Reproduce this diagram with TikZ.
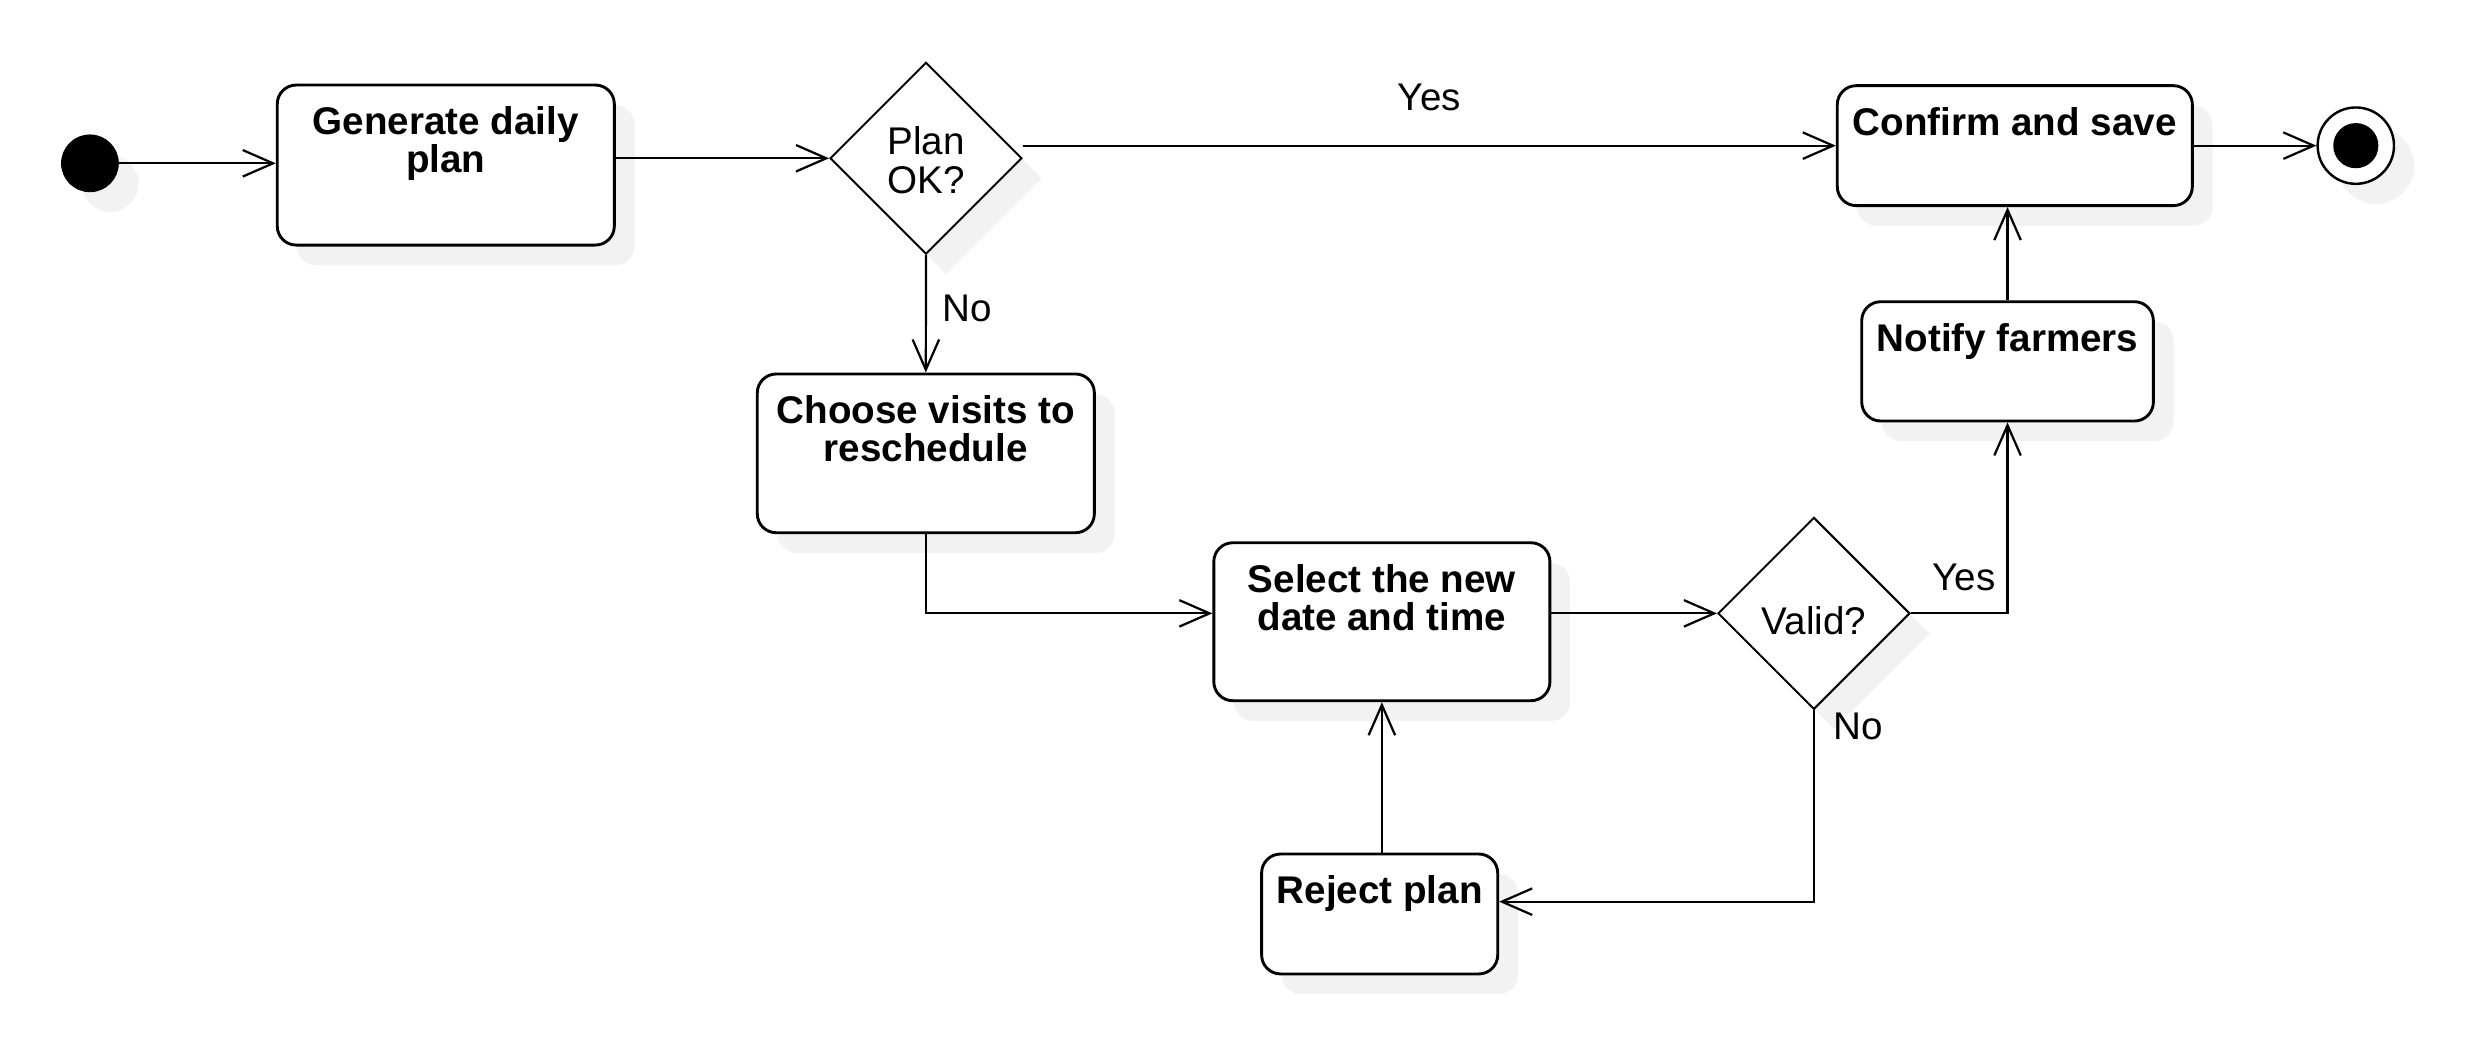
\documentclass[tikz,border=0pt]{standalone}
\usepackage{fontspec}
\setmainfont{Liberation Sans}
\usetikzlibrary{shapes.geometric, arrows.meta, shadows}

\newcommand{\chartfont}{\fontsize{17.4pt}{17.3pt}\selectfont}

\tikzset{
  softshadow/.style={drop shadow={shadow xshift=0.32cm, shadow yshift=-0.32cm, fill=black!5, opacity=1}},
  actbox/.style={draw, line width=1.3pt, rectangle, rounded corners=0.3cm, fill=white, softshadow,
    inner sep=0pt, align=center, font=\chartfont\bfseries, text height=0.7825cm},
  twoline/.style={text height=1.39cm},
  choice/.style={draw, line width=0.9pt, diamond, fill=white, softshadow, inner sep=0pt,
    minimum width=3.04cm, minimum height=3.04cm, align=center, font=\chartfont},
  flow/.style={line width=1pt, -{Straight Barb[length=4.8mm, width=4.2mm]}},
  guard/.style={inner sep=0pt, anchor=base, font=\chartfont},
}

\begin{document}
\begin{tikzpicture}
\fill[white] (0,0) rectangle (39.195,-16.762);
\useasboundingbox (0,0) rectangle (39.195,-16.762);

% states and decisions
\node[draw, circle, fill=black, minimum size=0.9cm, inner sep=0pt, softshadow] (start) at (1.425,-2.5875) {};
\node[actbox, twoline, minimum width=5.34cm, text depth=1.145cm] (gen) at (7.0625,-2.615) {Generate daily\\plan};
\node[choice, text height=1.11cm, text depth=0cm] (plan) at (14.67,-2.5075) {Plan\\OK?};
\node[actbox, minimum width=5.625cm, text depth=1.1175cm] (confirm) at (31.92,-2.3075) {Confirm and save};
\node[draw, circle, line width=1.1pt, fill=white, minimum size=1.21cm, inner sep=0pt, softshadow,
  path picture={\fill[black] (path picture bounding box.center) circle (0.3575cm);}] (stop) at (37.3225,-2.3075) {};
\node[actbox, minimum width=4.62cm, text depth=1.1075cm] (notify) at (31.805,-5.725) {Notify farmers};
\node[actbox, twoline, minimum width=5.34cm, text depth=1.125cm] (choose) at (14.6675,-7.1825) {Choose visits to\\reschedule};
\node[actbox, twoline, minimum width=5.325cm, text depth=1.1125cm] (select) at (21.8925,-9.85) {Select the new\\date and time};
\node[choice, text height=0.685cm, text depth=0cm] (valid) at (28.7375,-9.7175) {Valid?};
\node[actbox, minimum width=3.74cm, text depth=1.1175cm] (reject) at (21.8575,-14.48) {Reject plan};

% transitions
\draw[flow] (start) -- (start -| gen.west);
\draw[flow] (gen.east |- plan.west) -- (plan.west);
\draw[flow] (plan.east |- confirm.west) -- node[guard, yshift=0.55cm] (yesTop) {Yes} (confirm.west);
\draw[flow] (confirm.east) -- (stop.west);
\draw[flow] (plan.south) -- node[guard, anchor=base west, xshift=0.245cm, yshift=-0.125cm] (noTop) {No} (choose.north);
\draw[flow] (choose.south) |- (select.west |- valid.west);
\draw[flow] (select.east |- valid.west) -- (valid.west);
\draw[flow] (valid.east) -| node[guard, anchor=base east, xshift=-0.17cm, yshift=0.355cm] (yesValid) {Yes} (notify.south);
\draw[flow] (notify.north) -- (notify.north |- confirm.south);
\draw[flow] (valid.south) |- node[pos=0, guard, anchor=base west, xshift=0.29cm, yshift=-0.46cm] (noValid) {No} ([yshift=0.195cm]reject.east);
\draw[flow] (select.south |- reject.north) -- (select.south);
\end{tikzpicture}
\end{document}
